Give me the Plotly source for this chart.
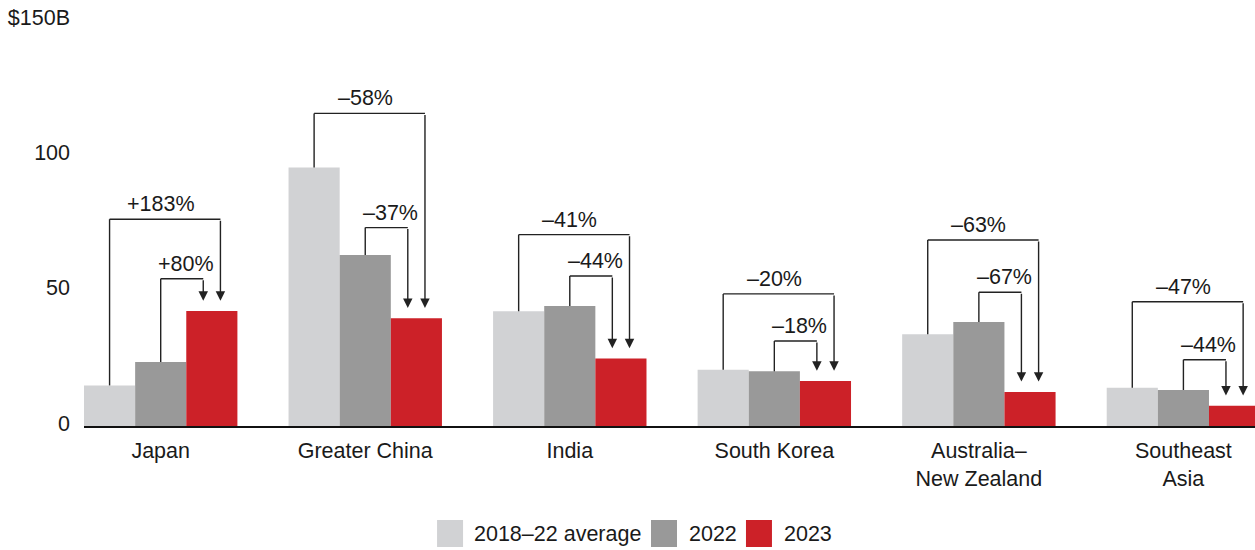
import plotly.graph_objects as go

# Deal value by market, $B
categories = ["Japan", "Greater China", "India", "South Korea",
              "Australia–<br>New Zealand", "Southeast<br>Asia"]
series_names = ["2018–22 average", "2022", "2023"]
avg_2018_22 = [15.0, 95.5, 42.4, 20.8, 33.9, 14.1]
val_2022 = [23.6, 63.2, 44.3, 20.2, 38.4, 13.3]
val_2023 = [42.5, 39.8, 24.9, 16.6, 12.6, 7.45]

# 2023 change labels
change_vs_avg = ["+183%", "–58%", "–41%", "–20%", "–63%", "–47%"]
change_vs_2022 = ["+80%", "–37%", "–44%", "–18%", "–67%", "–44%"]

# y ticks
tick_vals = [0, 50, 100, 150]
tick_text = ["0", "50", "100", "$150B"]

# bracket levels (layout, in axis units)
outer_level = [76.4, 115.5, 70.7, 48.8, 68.7, 45.9]
inner_level = [54.4, 73.3, 55.4, 31.4, 49.4, 24.5]

colors = ["#d1d2d4", "#999999", "#cc2128"]
FONT = "Arial, Liberation Sans, Helvetica, sans-serif"
INK = "#1a1a1a"
LINE = "#222222"
FS = 21.5

fig = go.Figure()
for name, vals, col in zip(series_names, [avg_2018_22, val_2022, val_2023], colors):
    fig.add_trace(go.Bar(x=categories, y=vals, name=name, marker_color=col,
                         marker_line_width=0, showlegend=False))

BAR_OFF = 0.25      # centre offset of side bars within a group
ARROW_OFF = 0.042   # arrow shift from the centre of the 2023 bar
GAP = 3.8           # space between arrow tip and bar top

shapes = []
annotations = []
for i in range(len(categories)):
    x_avg = i - BAR_OFF
    x_22 = i
    x_out = i + BAR_OFF + ARROW_OFF
    x_in = i + BAR_OFF - ARROW_OFF
    tip = val_2023[i] + GAP
    line = dict(color=LINE, width=1.4)
    # outer bracket: average -> 2023
    shapes.append(dict(type="line", xref="x", yref="y", x0=x_avg, x1=x_avg,
                       y0=avg_2018_22[i], y1=outer_level[i], line=line))
    shapes.append(dict(type="line", xref="x", yref="y", x0=x_avg, x1=x_out,
                       y0=outer_level[i], y1=outer_level[i], line=line))
    annotations.append(dict(x=x_out, y=tip, ax=x_out, ay=outer_level[i],
                            xref="x", yref="y", axref="x", ayref="y",
                            showarrow=True, arrowhead=2, arrowsize=1.35,
                            arrowwidth=1.4, arrowcolor=LINE, text=""))
    annotations.append(dict(x=i, y=outer_level[i], xref="x", yref="y",
                            text=change_vs_avg[i], showarrow=False,
                            yanchor="bottom", yshift=1,
                            font=dict(size=FS, color=INK, family=FONT)))
    # inner bracket: 2022 -> 2023
    shapes.append(dict(type="line", xref="x", yref="y", x0=x_22, x1=x_22,
                       y0=val_2022[i], y1=inner_level[i], line=line))
    shapes.append(dict(type="line", xref="x", yref="y", x0=x_22, x1=x_in,
                       y0=inner_level[i], y1=inner_level[i], line=line))
    annotations.append(dict(x=x_in, y=tip, ax=x_in, ay=inner_level[i],
                            xref="x", yref="y", axref="x", ayref="y",
                            showarrow=True, arrowhead=2, arrowsize=1.35,
                            arrowwidth=1.4, arrowcolor=LINE, text=""))
    annotations.append(dict(x=i + BAR_OFF / 2, y=inner_level[i], xref="x", yref="y",
                            text=change_vs_2022[i], showarrow=False,
                            yanchor="bottom", yshift=1,
                            font=dict(size=FS, color=INK, family=FONT)))

# legend row below the axis
legend_sq_x = [0.3015, 0.4842, 0.5653]
legend_txt_x = [0.3313, 0.5149, 0.5961]
for name, col, sx, tx in zip(series_names, colors, legend_sq_x, legend_txt_x):
    shapes.append(dict(type="rect", xref="paper", yref="paper",
                       x0=sx, x1=sx + 0.0222, y0=-0.298, y1=-0.2315,
                       fillcolor=col, line_width=0, layer="above"))
    annotations.append(dict(x=tx, y=-0.2648, xref="paper", yref="paper",
                            text=name, showarrow=False, xanchor="left",
                            yanchor="middle",
                            font=dict(size=FS, color=INK, family=FONT)))

fig.update_layout(
    width=1255, height=550,
    margin=dict(l=84, r=0, t=20, b=124),
    paper_bgcolor="white", plot_bgcolor="white",
    barmode="group", bargap=0.25, bargroupgap=0,
    font=dict(family=FONT, size=FS, color=INK),
    shapes=shapes, annotations=annotations,
    showlegend=False,
    xaxis=dict(type="category", range=[-0.375, 5.35], showgrid=False,
               showline=True, linecolor="#111111", linewidth=2,
               ticks="", ticklabelstandoff=4, zeroline=False,
               tickfont=dict(size=FS, color=INK, family=FONT)),
    yaxis=dict(range=[0, 150], tickvals=tick_vals, ticktext=tick_text,
               showgrid=False, zeroline=False, showline=False, ticks="",
               ticklabelstandoff=13, ticklabelshift=-3,
               tickfont=dict(size=FS, color=INK, family=FONT)),
)

fig.write_html("out.html")
